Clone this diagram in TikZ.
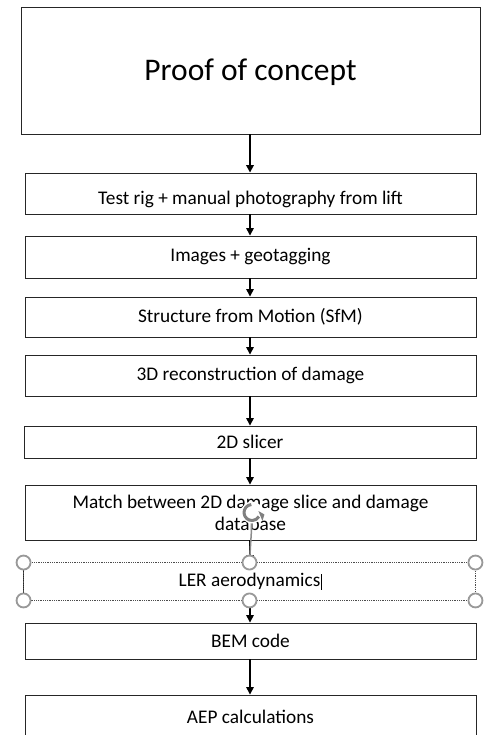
\documentclass[tikz,border=0pt]{standalone}
\usepackage{fontspec}
\setmainfont{Carlito}
\usetikzlibrary{arrows.meta}
\begin{document}
\begin{tikzpicture}[x=1pt,y=-1pt,
  box/.style={draw=black!85, line width=0.9pt, fill=white, inner sep=0pt,
    minimum width=451pt, align=center, font=\fontsize{19.3}{22}\selectfont},
  flow/.style={line width=1.4pt, -{Triangle[length=7.5pt,width=7.5pt]}},
  handle/.style={draw=black!40, line width=1.8pt, fill=white, circle, minimum size=14pt, inner sep=0pt},
  selframe/.style={black!70, line width=0.8pt, densely dotted}]
\useasboundingbox (0,0) rectangle (491,735);
\clip (0,0) rectangle (491,735);
\fill[white] (0,0) rectangle (491,735);

\node[box, minimum width=459pt, minimum height=127pt, font=\fontsize{31.5}{36}\selectfont] (b1) at (250.5,70.5) {\raisebox{-2pt}[\height][\depth]{Proof of concept}};
\node[box, minimum height=41pt] (b2) at (250.5,193.5) {\raisebox{-6pt}[\height][\depth]{Test rig + manual photography from lift}};
\node[box, minimum height=42pt] (b3) at (250.5,257) {Images + geotagging};
\node[box, minimum height=40pt] (b4) at (250.5,317) {Structure from Motion (SfM)};
\node[box, minimum height=41pt] (b5) at (250.5,375.5) {3D reconstruction of damage};
\node[box, minimum width=452pt, minimum height=32pt] (b6) at (250,442) {2D slicer};
\node[box, minimum height=55pt] (b7) at (250.5,512.5) {Match between 2D damage slice and damage\\database};
\node[box, draw=none, minimum height=37pt] (b8) at (249.5,581.5) {LER aerodynamics\rlap{\hspace{0.8pt}\rule[-3.5pt]{0.6pt}{16pt}}};
\node[box, minimum height=36pt] (b9) at (250.5,641) {BEM code};
\node[box, minimum height=44pt] (b10) at (250.5,717) {AEP calculations};

\draw[flow, line width=1.8pt] (b1.south -| 250,0) -- (b2.north -| 250,0);
\draw[flow] (b2.south -| 250,0) -- (b3.north -| 250,0);
\draw[flow] (b3.south -| 250,0) -- (b4.north -| 250,0);
\draw[flow] (b4.south -| 250,0) -- (b5.north -| 250,0);
\draw[flow] (b5.south -| 250,0) -- (b6.north -| 250,0);
\draw[flow] (b6.south -| 250,0) -- (b7.north -| 250,0);
\draw[flow] (b7.south -| 250,0) -- (b8.north -| 250,0);
\draw[flow] (b8.south -| 250,0) -- (b9.north -| 250,0);
\draw[flow] (b9.south -| 250,0) -- (b10.north -| 250,0);

% selection frame of the LER box
\draw[black!85, line width=0.9pt] (b8.north west) -- (b8.south west);
\draw[selframe] (b8.north west) rectangle (b8.south east);

% rotate handle
\coordinate (rot) at (252,512.5);
\draw[black!45, line width=1.5pt] (rot) ++(0,9) -- (b8.north);
\fill[white] (rot) circle (11pt);
\draw[black!50, line width=3pt] (rot) ++(95:8pt) arc (95:330:8pt);
\fill[black!50] (rot) ++(330:8pt) ++(-0.5,-5.5) -- ++(6,3.5) -- ++(-2,6.5) -- cycle;

\foreach \p in {north west, north, north east, south west, south, south east}
  \node[handle] at (b8.\p) {};
\end{tikzpicture}
\end{document}
